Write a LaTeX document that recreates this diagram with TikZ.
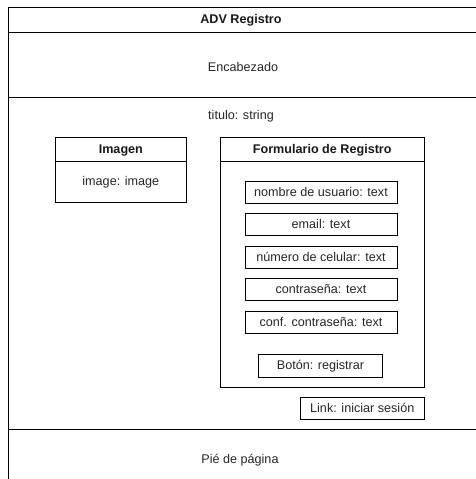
\documentclass[tikz,border=0pt]{standalone}
\usepackage{fontspec}
\setmainfont{Liberation Sans}
\begin{document}
\begin{tikzpicture}[x=1pt,y=-1pt,
  frame/.style={draw=black,line width=1pt},
  lbl/.style={font=\fontsize{12.6}{14}\selectfont,text=black!85,inner sep=0pt},
  ttl/.style={font=\fontsize{12.6}{14}\selectfont\bfseries,text=black!90,inner sep=0pt},
  field/.style={draw=black,line width=1pt,font=\fontsize{12.6}{14}\selectfont,text=black!85,inner sep=0pt,minimum height=22pt},
  panel/.style={draw=black,line width=1pt,inner sep=0pt}]
\useasboundingbox (0,0) rectangle (476,479);
\clip (0,0) rectangle (476,479);

% page frame and its horizontal bands
\coordinate (tl) at (8,7.5);
\coordinate (br) at (490,495);
\draw[frame] (tl) rectangle (br);
\coordinate (h1l) at (8,32.3);   \coordinate (h1r) at (490,32.3);
\coordinate (h2l) at (8,97.7);   \coordinate (h2r) at (490,97.7);
\coordinate (h3l) at (8,429);    \coordinate (h3r) at (490,429);
\draw[frame] (h1l) -- (h1r);
\draw[frame] (h2l) -- (h2r);
\draw[frame] (h3l) -- (h3r);

\node[ttl] (page) at (241,20) {ADV Registro};
\node[lbl] (header) at (243,67) {Encabezado};
\node[lbl] (titulo) at (241,116) {titulo: string};
\node[lbl] (footer) at (240,460) {Pié de página};

% image panel
\node[panel,minimum width=130.3pt,minimum height=65pt] (imagen) at (120.85,169.8) {};
\draw[frame] ([yshift=-25pt]imagen.north west) -- ([yshift=-25pt]imagen.north east);
\node[ttl] (imagenT) at (120.85,150) {Imagen};
\node[lbl] (imagenA) at (120.85,182) {image: image};

% registration form panel
\node[panel,minimum width=204.5pt,minimum height=250.2pt] (form) at (322.25,262.4) {};
\draw[frame] ([yshift=-25pt]form.north west) -- ([yshift=-25pt]form.north east);
\node[ttl] (formT) at (322.25,150) {Formulario de Registro};

\node[field,minimum width=152pt] (nombre) at (321,192) {nombre de usuario: text};
\node[field,minimum width=152pt] (email) at (321,224.2) {email: text};
\node[field,minimum width=152pt] (numero) at (321,257) {número de celular: text};
\node[field,minimum width=152pt] (pass) at (321,289.3) {contraseña: text};
\node[field,minimum width=152pt] (conf) at (321,322) {conf. contraseña: text};
\node[field,minimum width=124pt,minimum height=23pt] (boton) at (320.5,366) {Botón: registrar};

\node[field,minimum width=124.5pt,minimum height=21.5pt] (link) at (362.25,408.3) {Link: iniciar sesión};
\end{tikzpicture}
\end{document}
